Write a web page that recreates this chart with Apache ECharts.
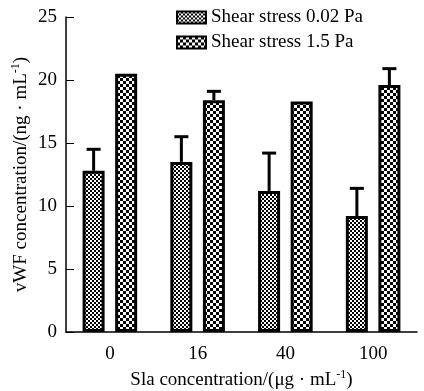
<!DOCTYPE html>
<html>
<head>
<meta charset="utf-8">
<script src="https://cdn.jsdelivr.net/npm/echarts@6/dist/echarts.min.js"></script>
<style>
  html, body { margin: 0; padding: 0; background: #fff; }
  #chart { width: 424px; height: 391px; }
</style>
</head>
<body>
<div id="chart"></div>
<script>
// data
const categories = ['0', '16', '40', '100']
const lowMean = [12.8, 13.5, 11.2, 9.2]
const lowUpper = [14.5, 15.5, 14.2, 11.4]
const highMean = [20.5, 18.4, 18.3, 19.6]
const highUpper = [20.6, 19.1, 18.3, 20.9]
const yTicks = [0, 5, 10, 15, 20, 25]

const FONT = '"Liberation Serif", "DejaVu Serif", serif'

// checkerboard fills
const checker = (cell) => {
  const c = document.createElement('canvas')
  c.width = cell * 2
  c.height = cell * 2
  const ctx = c.getContext('2d')
  ctx.fillStyle = '#fff'
  ctx.fillRect(0, 0, cell * 2, cell * 2)
  ctx.fillStyle = '#000'
  ctx.fillRect(0, 0, cell, cell)
  ctx.fillRect(cell, cell, cell, cell)
  return { image: c, repeat: 'repeat' }
}

const errorBars = (mean, upper, offset) => ({
  type: 'custom',
  z: 5,
  data: mean.map((m, i) => [i, m, upper[i]]),
  renderItem: (params, api) => {
    const base = api.coord([api.value(0), api.value(1)])
    const top = api.coord([api.value(0), api.value(2)])
    const x = base[0] + offset
    if (base[1] - top[1] < 2) return null
    const style = { stroke: '#000', lineWidth: 3 }
    return {
      type: 'group',
      children: [
        { type: 'line', shape: { x1: x, y1: base[1], x2: x, y2: top[1] }, style },
        { type: 'line', shape: { x1: x - 7, y1: top[1], x2: x + 7, y2: top[1] }, style },
      ],
    }
  },
})

const nameStyle = {
  fontFamily: FONT,
  fontSize: 19,
  color: '#000',
  rich: { sup: { fontFamily: FONT, fontSize: 12, color: '#000', padding: [0, 0, 10, 0] } },
}

let chart = echarts.init(document.getElementById('chart'))
let option = {
  animation: false,
  grid: {
    top: 17,
    left: 66,
    right: 7,
    bottom: 59,
    containLabel: false,
    outerBoundsMode: 'none',
  },
  legend: {
    data: ['Shear stress 0.02 Pa', 'Shear stress 1.5 Pa'],
    orient: 'vertical',
    left: 171,
    top: 3,
    itemWidth: 29,
    itemHeight: 12,
    itemGap: 6,
    icon: 'rect',
    itemStyle: { borderWidth: 2, borderColor: '#000' },
    textStyle: { fontFamily: FONT, fontSize: 19, lineHeight: 19, color: '#000' },
  },
  xAxis: {
    type: 'category',
    data: categories,
    name: 'Sla concentration/(μg · mL{sup|-1})',
    nameLocation: 'middle',
    nameGap: 37,
    nameMoveOverlap: false,
    nameTextStyle: nameStyle,
    axisLine: { lineStyle: { color: '#000', width: 1.5 } },
    axisTick: { inside: true, length: 6, alignWithLabel: true, lineStyle: { color: '#000' } },
    axisLabel: { fontFamily: FONT, fontSize: 19, color: '#000', margin: 13 },
  },
  yAxis: {
    type: 'value',
    min: yTicks[0],
    max: yTicks[yTicks.length - 1],
    interval: 5,
    name: 'vWF concentration/(ng · mL{sup|-1})',
    nameLocation: 'middle',
    nameGap: 34,
    nameMoveOverlap: false,
    nameRotate: 90,
    nameTextStyle: nameStyle,
    splitLine: { show: false },
    axisLine: { show: true, lineStyle: { color: '#000', width: 1.5 } },
    axisTick: { show: true, inside: true, length: 8, lineStyle: { color: '#000' } },
    axisLabel: { fontFamily: FONT, fontSize: 19, color: '#000', margin: 9 },
  },
  series: [
    {
      name: 'Shear stress 0.02 Pa',
      type: 'bar',
      data: lowMean,
      barWidth: 22,
      barGap: '48%',
      itemStyle: { color: checker(2), borderColor: '#000', borderWidth: 3 },
    },
    {
      name: 'Shear stress 1.5 Pa',
      type: 'bar',
      data: highMean,
      barWidth: 22,
      itemStyle: { color: checker(3), borderColor: '#000', borderWidth: 3 },
    },
    errorBars(lowMean, lowUpper, -16.25),
    errorBars(highMean, highUpper, 16.25),
  ],
}
chart.setOption(option)
</script>
</body>
</html>
